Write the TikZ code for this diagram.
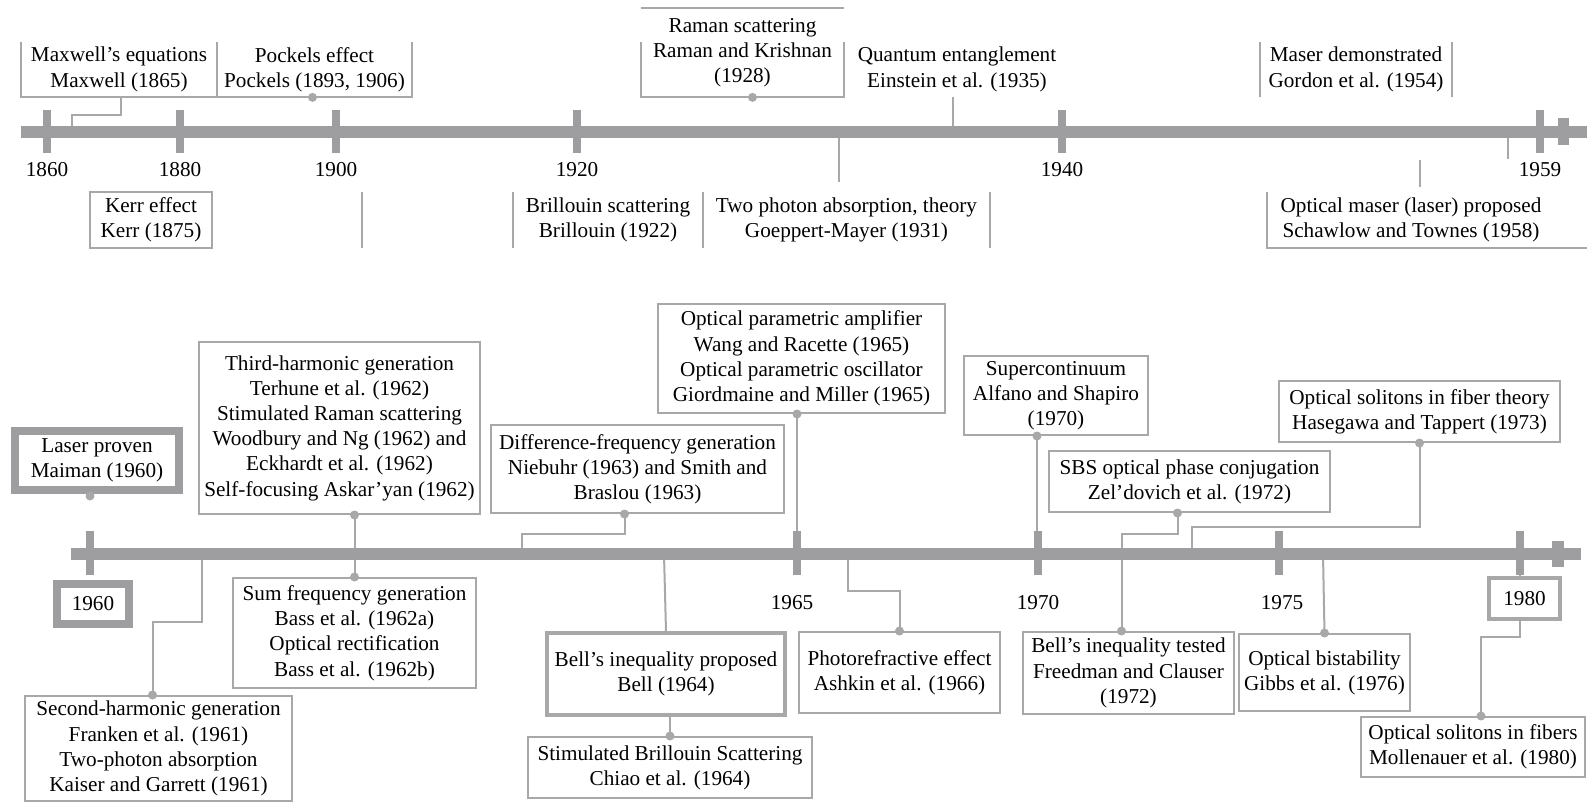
\documentclass[tikz,border=0pt]{standalone}
\usepackage{fontspec}
\setmainfont{Liberation Serif}
\usepackage{tikz}
\usetikzlibrary{calc,positioning}

\definecolor{barc}{RGB}{158,158,161}
\definecolor{linec}{RGB}{168,168,168}
\newcommand{\evfont}{\fontsize{10.6}{12.6}\selectfont}

\begin{document}
\begin{tikzpicture}[
    x=0.5pt, y=-0.5pt,
    every node/.style={font=\evfont, inner sep=0pt, align=center},
    evbox/.style={draw=linec, line width=1pt},
    openbox/.style={draw=none},
    boldbox/.style={draw=barc, line width=4pt},
    midbox/.style={draw=linec, line width=1.6pt},
    wh/.style 2 args={minimum width=#1*0.5pt, minimum height=#2*0.5pt},
    conn/.style={draw=linec, line width=1pt},
    evdot/.style={circle, fill=linec, inner sep=0pt, minimum size=4.5pt},
    timebar/.style={draw=barc, line width=6pt}
]
\useasboundingbox (0,0) rectangle (1587,803);

% ---------------- 1860 -- 1959 ----------------
\coordinate (m1865) at (72,126);
\coordinate (m1931) at (839,138);
\coordinate (m1958) at (1508,138);
\coordinate (v1900) at (362,192);

% boxes above the bar
\node[openbox, wh={196}{55}] (maxw) at (119,69.5) {Maxwell's equations\\Maxwell (1865)};
\node[openbox, wh={195}{55}] (pock) at (314.5,69.5) {Pockels effect\\Pockels (1893, 1906)};
\node[openbox, wh={203}{89}] (raman) at (742.5,52.5) {Raman scattering\\Raman and Krishnan\\(1928)};
\node[openbox, wh={210}{55}] (qent) at (957,69.5) {Quantum entanglement\\Einstein et al. (1935)};
\node[openbox, wh={192}{55}] (maser) at (1356,69.5) {Maser demonstrated\\Gordon et al. (1954)};

\draw[conn] (maxw.north west) -- (maxw.south west) -- (pock.south east) -- (pock.north east);
\draw[conn] (pock.north west) -- (pock.south west);
\draw[conn] (raman.north west) -- (raman.north east);
\draw[conn] ([shift={(0,34)}]raman.north west) -- (raman.south west) -- (raman.south east) -- ([shift={(0,34)}]raman.north east);
\draw[conn] (maser.north west) -- (maser.south west);
\draw[conn] (maser.north east) -- (maser.south east);

\draw[conn] ([shift={(2,0)}]maxw.south) -- ++(0,18) -| (m1865);
\draw[conn] ([shift={(-4,0)}]qent.south) -- ++(0,29);

% boxes below the bar
\node[evbox, wh={122}{56}] (kerr) at (151,220) {Kerr effect\\Kerr (1875)};
\node[openbox, wh={190}{56}] (bril) at (608,220) {Brillouin scattering\\Brillouin (1922)};
\node[openbox, wh={287}{56}] (tpa) at (846.5,220) {Two photon absorption, theory\\Goeppert-Mayer (1931)};
\node[openbox, wh={288}{56}] (omaser) at (1411,220) {Optical maser (laser) proposed\\Schawlow and Townes (1958)};

\draw[conn] (v1900) -- ++(0,56);
\draw[conn] (bril.north west) -- (bril.south west);
\draw[conn] (tpa.north west) -- (tpa.south west);
\draw[conn] (tpa.north east) -- (tpa.south east);
\draw[conn] (omaser.north west) -- (omaser.south west) -- ++(330,0);
\draw[conn] (m1931) -- ++(0,44);
\draw[conn] (m1958) -- ++(0,21);
\draw[conn] ([shift={(9,-5)}]omaser.north) -- ++(0,-27);

% bar and ticks
\draw[timebar] (21,132) -- (1587,132);
\fill[barc] (1558,118) rectangle (1569,145);
\foreach \yr/\x in {1860/47, 1880/180, 1900/336, 1920/577, 1940/1062, 1959/1540} {
    \fill[barc] (\x-4,110) rectangle (\x+4,153);
    \node (y\yr) at (\x,170) {\yr};
}

\node[evdot] at ([shift={(-2,0)}]pock.south) {};
\node[evdot] at ([shift={(10,0)}]raman.south) {};

% ---------------- 1960 -- 1980 ----------------
\coordinate (m1961) at (202,554);
\coordinate (m1963) at (522,554);
\coordinate (m1964) at (664,554);
\coordinate (m1966) at (848,554);
\coordinate (m1973) at (1192,554);
\coordinate (m1976) at (1323,554);

% above the bar
\node[boldbox, wh={164}{59}] (laser) at (97,460.5) {Laser proven\\Maiman (1960)};
\node[evbox, wh={281}{172}] (thg) at (339.5,428) {Third-harmonic generation\\Terhune et al. (1962)\\Stimulated Raman scattering\\Woodbury and Ng (1962) and\\Eckhardt et al. (1962)\\Self-focusing Askar'yan (1962)};
\node[evbox, wh={293}{88}] (dfg) at (637.5,469) {Difference-frequency generation\\Niebuhr (1963) and Smith and\\Braslou (1963)};
\node[evbox, wh={287}{109}] (opa) at (801.5,358.5) {Optical parametric amplifier\\Wang and Racette (1965)\\Optical parametric oscillator\\Giordmaine and Miller (1965)};
\node[evbox, wh={184}{79}] (sc) at (1056,395.5) {Supercontinuum\\Alfano and Shapiro\\(1970)};
\node[evbox, wh={281}{61}] (sbsc) at (1189.5,481.5) {SBS optical phase conjugation\\Zel'dovich et al. (1972)};
\node[evbox, wh={281}{61}] (hase) at (1419.5,411.5) {Optical solitons in fiber theory\\Hasegawa and Tappert (1973)};

% below the bar
\node[boldbox, wh={72}{40}] (y1960) at (93,604) {1960};
\node[midbox, wh={71}{41}] (y1980) at (1524.5,598.5) {1980};
\node (y1965) at (792,603) {1965};
\node (y1970) at (1038,603) {1970};
\node (y1975) at (1282,603) {1975};

\node[evbox, wh={267}{105}] (shg) at (158.5,748.5) {Second-harmonic generation\\Franken et al. (1961)\\Two-photon absorption\\Kaiser and Garrett (1961)};
\node[evbox, wh={243}{110}] (sfg) at (354.5,633) {Sum frequency generation\\Bass et al. (1962a)\\Optical rectification\\Bass et al. (1962b)};
\node[midbox, wh={238}{82}] (bellp) at (666,674) {Bell's inequality proposed\\Bell (1964)};
\node[evbox, wh={284}{61}] (sbs) at (670,767.5) {Stimulated Brillouin Scattering\\Chiao et al. (1964)};
\node[evbox, wh={201}{81}] (photo) at (899.5,672.5) {Photorefractive effect\\Ashkin et al. (1966)};
\node[evbox, wh={211}{82}] (bellt) at (1128.5,673) {Bell's inequality tested\\Freedman and Clauser\\(1972)};
\node[evbox, wh={171}{77}] (gibbs) at (1324.5,672.5) {Optical bistability\\Gibbs et al. (1976)};
\node[evbox, wh={224}{60}] (moll) at (1473,747) {Optical solitons in fibers\\Mollenauer et al. (1980)};

% connectors
\draw[conn] ([shift={(-6,0)}]shg.north) -- ++(0,-73) -| (m1961);
\draw[conn] (sfg.north |- thg.south) -- (sfg.north);
\draw[conn] ([shift={(-13,0)}]dfg.south) -- ++(0,20) -| (m1963);
\draw[conn] ([shift={(-4.5,0)}]opa.south) -- ++(0,120);
\draw[conn] (bellp.north) -- (m1964);
\draw[conn] (sbs.north |- bellp.south) -- (sbs.north);
\draw[conn] (photo.north) -- ++(0,-40) -| (m1966);
\draw[conn] ([shift={(-19,0)}]sc.south) -- ++(0,100);
\draw[conn] ([shift={(-12,0)}]sbsc.south) -- ++(0,21) -| ([shift={(-7,0)}]bellt.north);
\draw[conn] (hase.south) -- ++(0,84) -| (m1973);
\draw[conn] (gibbs.north) -- (m1976);
\draw[conn] ([shift={(-4.5,0)}]y1980.north) -- ++(0,-20);
\draw[conn] ([shift={(-4.5,0)}]y1980.south) -- ++(0,16) -| ([shift={(8,0)}]moll.north);

% bar and ticks
\draw[timebar] (71,554) -- (1581,554);
\fill[barc] (1552,541) rectangle (1564,567);
\foreach \x in {90, 797, 1038, 1279, 1520} {
    \fill[barc] (\x-4,531) rectangle (\x+4,575);
}

% dots
\node[evdot] at ([shift={(-7,2)}]laser.south) {};
\node[evdot] at ([shift={(-6,0)}]shg.north) {};
\node[evdot] at (sfg.north |- thg.south) {};
\node[evdot] at (sfg.north) {};
\node[evdot] at ([shift={(-13,0)}]dfg.south) {};
\node[evdot] at ([shift={(-4.5,0)}]opa.south) {};
\node[evdot] at (sbs.north) {};
\node[evdot] at (photo.north) {};
\node[evdot] at ([shift={(-19,0)}]sc.south) {};
\node[evdot] at ([shift={(-12,0)}]sbsc.south) {};
\node[evdot] at ([shift={(-7,0)}]bellt.north) {};
\node[evdot] at (hase.south) {};
\node[evdot] at (gibbs.north) {};
\node[evdot] at ([shift={(8,0)}]moll.north) {};

\end{tikzpicture}
\end{document}
